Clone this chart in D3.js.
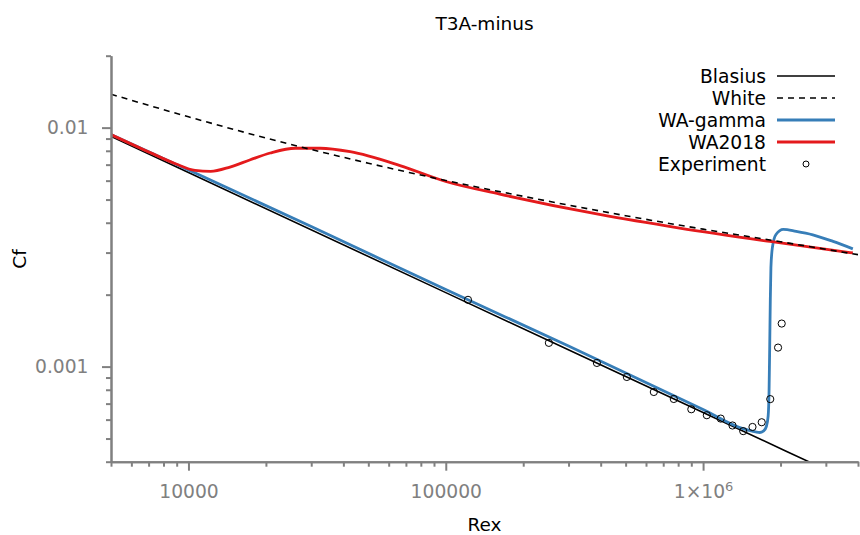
<!DOCTYPE html>
<html>
<head>
<meta charset="utf-8">
<script src="https://cdn.jsdelivr.net/npm/d3@7"></script>
<style>
	body { margin: 0; background: #fff; }
	text { font-family: "DejaVu Sans", sans-serif; }
</style>
</head>
<body>
<div id="chart"></div>
<script>
// values
const blasiusRe = [5000, 1e4, 1e5, 1e6, 2.6e6];
const blasiusCf = [0.0092, 0.00649, 0.00204, 0.000643, 0.000398];

const whiteRe = [5000, 1e4, 2e4, 5e4, 1e5, 2e5, 5e5, 1e6, 2e6, 4e6];
const whiteCf = [0.0138, 0.0111, 0.00905, 0.0071, 0.00601, 0.00516, 0.00428, 0.00376, 0.00333, 0.00294];

const gammaRe = [5000, 1e4, 3e4, 1e5, 3e5, 1e6, 1.43e6, 1.6e6, 1.66e6, 1.72e6, 1.76e6, 1.79e6, 1.805e6,
	1.815e6, 1.825e6, 1.835e6, 1.86e6, 1.92e6, 2.05e6, 2.3e6, 2.67e6, 3.2e6, 3.82e6];
const gammaCf = [0.00935, 0.00665, 0.00386, 0.0021, 0.00122, 0.000662, 0.00055, 0.000533, 0.00053, 0.000538,
	0.00056, 0.00062, 0.0008, 0.0012, 0.0019, 0.0026, 0.00316, 0.00357, 0.00375, 0.00368, 0.00356, 0.00334, 0.00311];

const wa2018Re = [5000, 7100, 8900, 1.06e4, 1.22e4, 1.45e4, 1.74e4, 2.08e4, 2.6e4, 3.25e4, 4.25e4, 6.64e4,
	1e5, 1.62e5, 4e5, 8.1e5, 1.82e6, 3.82e6];
const wa2018Cf = [0.00935, 0.00786, 0.00706, 0.00662, 0.00656, 0.00684, 0.00734, 0.00783, 0.0082, 0.0082,
	0.00793, 0.00694, 0.00595, 0.00527, 0.00432, 0.0038, 0.00334, 0.00299];

const expRe = [1.22e5, 2.516e5, 3.866e5, 5.054e5, 6.435e5, 7.694e5, 9.0e5, 1.034e6, 1.171e6, 1.301e6,
	1.432e6, 1.556e6, 1.69e6, 1.824e6, 1.956e6, 2.021e6];
const expCf = [0.001903, 0.001257, 0.001036, 0.000905, 0.000783, 0.000732, 0.000663, 0.000626, 0.000606,
	0.000567, 0.000537, 0.000559, 0.000585, 0.000731, 0.001201, 0.001514];

const xMajorTicks = [1e4, 1e5, 1e6];
const xMinorTicks = [5000, 6000, 7000, 8000, 9000, 2e4, 3e4, 4e4, 5e4, 6e4, 7e4, 8e4, 9e4,
	2e5, 3e5, 4e5, 5e5, 6e5, 7e5, 8e5, 9e5, 2e6, 3e6, 4e6];
const yMajorTicks = [0.001, 0.01];
const yMinorTicks = [0.0004, 0.0005, 0.0006, 0.0007, 0.0008, 0.0009,
	0.002, 0.003, 0.004, 0.005, 0.006, 0.007, 0.008, 0.009, 0.02];

const seriesNames = ["Blasius", "White", "WA-gamma", "WA2018", "Experiment"];

const width = 860;
const height = 535;
const margin = { top: 55.7, right: 2, bottom: 73.3, left: 111 };
const axisColor = "#808080";

const svg = d3
	.select("#chart")
	.append("svg")
	.attr("width", width)
	.attr("height", height);

// scales
const xScale = d3
	.scaleLog()
	.domain([5000, 4e6])
	.range([margin.left, width - margin.right]);

const yScale = d3
	.scaleLog()
	.domain([0.0004, 0.02])
	.range([height - margin.bottom, margin.top]);

svg.append("clipPath")
	.attr("id", "plot-clip")
	.append("rect")
	.attr("x", margin.left)
	.attr("y", margin.top)
	.attr("width", width - margin.right - margin.left)
	.attr("height", height - margin.bottom - margin.top);

const line = d3
	.line()
	.x((d) => xScale(d[0]))
	.y((d) => yScale(d[1]))
	.curve(d3.curveMonotoneX);

const plot = svg.append("g").attr("clip-path", "url(#plot-clip)");

// lines
const series = [
	{ re: blasiusRe, cf: blasiusCf, color: "black", width: 1.6, dash: null },
	{ re: gammaRe, cf: gammaCf, color: "#377eb8", width: 2.8, dash: null },
	{ re: wa2018Re, cf: wa2018Cf, color: "#e41a1c", width: 2.8, dash: null },
	{ re: whiteRe, cf: whiteCf, color: "black", width: 1.6, dash: "6,5" },
];
series.forEach((s) => {
	plot.append("path")
		.datum(d3.zip(s.re, s.cf))
		.attr("d", line)
		.attr("fill", "none")
		.attr("stroke", s.color)
		.attr("stroke-width", s.width)
		.attr("stroke-dasharray", s.dash);
});

// experiment points
plot.selectAll("circle")
	.data(d3.zip(expRe, expCf))
	.enter()
	.append("circle")
	.attr("cx", (d) => xScale(d[0]))
	.attr("cy", (d) => yScale(d[1]))
	.attr("r", 3.6)
	.attr("fill", "none")
	.attr("stroke", "black")
	.attr("stroke-width", 1);

// axes
const styleAxis = (g) => {
	g.select(".domain").attr("stroke", axisColor).attr("stroke-width", 2);
	g.selectAll(".tick line").attr("stroke", axisColor).attr("stroke-width", 2);
	g.selectAll(".tick text")
		.attr("fill", axisColor)
		.attr("font-size", "18.7px")
		.attr("font-family", "DejaVu Sans, sans-serif");
};

const xMinor = d3.axisBottom(xScale).tickValues(xMinorTicks).tickSize(5).tickSizeOuter(0).tickFormat("");
svg.append("g")
	.attr("transform", `translate(0, ${height - margin.bottom})`)
	.call(xMinor)
	.call(styleAxis);

const xMajor = d3
	.axisBottom(xScale)
	.tickValues(xMajorTicks)
	.tickSize(9)
	.tickSizeOuter(0)
	.tickPadding(14)
	.tickFormat((d) => (d === 1e6 ? "1×10" : String(d)));
const xAxisG = svg.append("g")
	.attr("transform", `translate(0, ${height - margin.bottom})`)
	.call(xMajor)
	.call(styleAxis);
xAxisG.selectAll(".tick text").each(function (d) {
	if (d === 1e6) {
		d3.select(this)
			.append("tspan")
			.attr("dy", "-0.55em")
			.attr("font-size", "13px")
			.text("6");
	}
});

const yMinor = d3.axisLeft(yScale).tickValues(yMinorTicks).tickSize(5).tickSizeOuter(0).tickFormat("");
svg.append("g")
	.attr("transform", `translate(${margin.left}, 0)`)
	.call(yMinor)
	.call(styleAxis);

const yMajor = d3
	.axisLeft(yScale)
	.tickValues(yMajorTicks)
	.tickSize(9)
	.tickSizeOuter(0)
	.tickPadding(13.5)
	.tickFormat((d) => String(d));
svg.append("g")
	.attr("transform", `translate(${margin.left}, 0)`)
	.call(yMajor)
	.call(styleAxis);

// title and axis labels
svg.append("text")
	.attr("x", (margin.left + width - margin.right) / 2)
	.attr("y", 30)
	.attr("text-anchor", "middle")
	.attr("font-size", "18.5px")
	.text("T3A-minus");

svg.append("text")
	.attr("x", (margin.left + width - margin.right) / 2)
	.attr("y", 531)
	.attr("text-anchor", "middle")
	.attr("font-size", "18.5px")
	.text("Rex");

svg.append("text")
	.attr("transform", "translate(26, 259) rotate(-90)")
	.attr("text-anchor", "middle")
	.attr("font-size", "18.5px")
	.text("Cf");

// legend
const legendStyles = [
	{ color: "black", width: 1.6, dash: null },
	{ color: "black", width: 1.6, dash: "6,5" },
	{ color: "#377eb8", width: 2.8, dash: null },
	{ color: "#e41a1c", width: 2.8, dash: null },
	null,
];
const legend = svg.append("g");
seriesNames.forEach((name, i) => {
	const y = 76 + i * 22;
	legend.append("text")
		.attr("x", 766)
		.attr("y", y)
		.attr("dy", "0.35em")
		.attr("text-anchor", "end")
		.attr("font-size", "18.7px")
		.text(name);
	const st = legendStyles[i];
	if (st) {
		legend.append("line")
			.attr("x1", 777)
			.attr("x2", 835)
			.attr("y1", y)
			.attr("y2", y)
			.attr("stroke", st.color)
			.attr("stroke-width", st.width)
			.attr("stroke-dasharray", st.dash);
	} else {
		legend.append("circle")
			.attr("cx", 806)
			.attr("cy", y)
			.attr("r", 3)
			.attr("fill", "none")
			.attr("stroke", "black")
			.attr("stroke-width", 1);
	}
});
</script>
</body>
</html>
